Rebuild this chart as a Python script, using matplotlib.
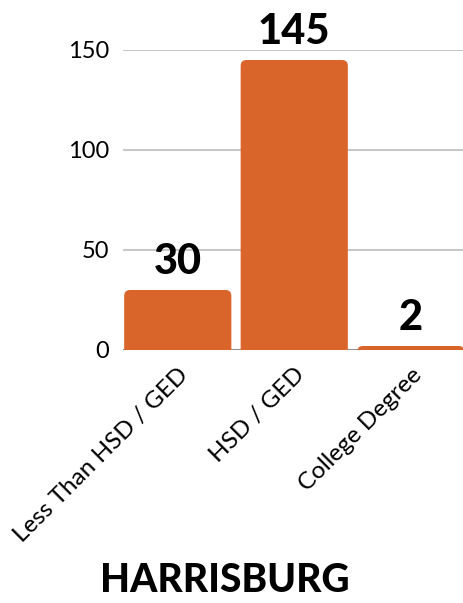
import matplotlib
matplotlib.use("Agg")
import matplotlib.pyplot as plt
from matplotlib.patches import FancyBboxPatch

# data
categories = ["Less Than HSD / GED", "HSD / GED", "College Degree"]
counts = [30, 145, 2]
yticks = [0, 50, 100, 150]
title = "HARRISBURG"

bar_color = "#D9652B"
grid_color = "#C8C8C8"

fig = plt.figure(figsize=(4.63, 6.03), dpi=100)
W, H = 463, 603

# axes runs past the right edge, like the cropped original
slot = 116.5
ax_left = 123
ax_w = slot * 4
ax = fig.add_axes([ax_left / W, (H - 350) / H, ax_w / W, 300 / H])
ax.set_xlim(-0.47, 3.53)
ax.set_ylim(0, 150)

# rounded top corners; the bottom ones are hidden under y=0
bw = 0.92
for i, v in enumerate(counts):
    p = FancyBboxPatch((i - bw / 2, -8), bw, v + 8,
                       boxstyle="round,pad=0,rounding_size=0.05",
                       mutation_aspect=58.25,
                       facecolor=bar_color, edgecolor="none", zorder=3)
    ax.add_patch(p)
    ax.text(i, v + 4.5, str(v), ha="center", va="bottom",
            fontsize=30, fontweight="black", family="Lato",
            color="black", zorder=4, clip_on=False)

ax.set_yticks(yticks)
ax.set_yticklabels([str(t) for t in yticks], fontsize=17,
                   family="Lato", fontweight="normal", color="black")
ax.yaxis.grid(True, color=grid_color, linewidth=1.5, zorder=0)
ax.axhline(0, color="#8A8A8A", linewidth=2, zorder=2)

ax.set_xticks(range(len(categories)))
ax.set_xticklabels(categories, rotation=45, ha="right",
                   rotation_mode="anchor", fontsize=17.5,
                   family="Lato", fontweight="normal", color="black")

ax.tick_params(axis="both", length=0)
ax.tick_params(axis="y", pad=10)
ax.tick_params(axis="x", pad=10)
for s in ax.spines.values():
    s.set_visible(False)

fig.text(225 / W, 1 - 581 / H, title, ha="center", va="center",
         fontsize=28, fontweight="black", family="Lato", color="black")

fig.savefig("out.png", dpi=100)
